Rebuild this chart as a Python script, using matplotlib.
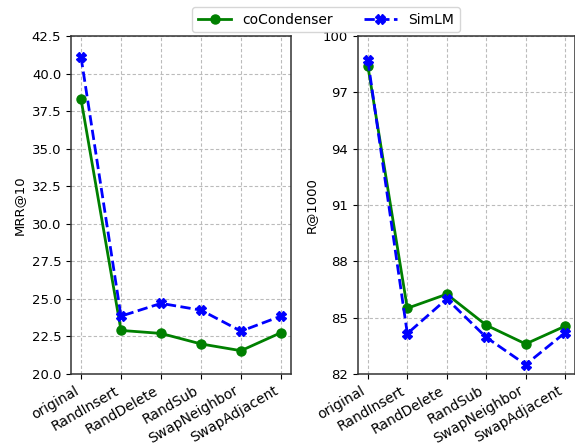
import matplotlib
matplotlib.use('Agg')
import matplotlib.pyplot as plt

methods = ['original', 'RandInsert', 'RandDelete', 'RandSub', 'SwapNeighbor', 'SwapAdjacent']

# MRR@10
cocondenser_mrr = [38.3, 22.9, 22.7, 22.0, 21.55, 22.75]
simlm_mrr = [41.1, 23.85, 24.7, 24.25, 22.85, 23.85]

# R@1000
cocondenser_recall = [98.4, 85.5, 86.25, 84.6, 83.6, 84.55]
simlm_recall = [98.7, 84.15, 86.0, 83.95, 82.5, 84.2]

mrr_ticks = [20.0, 22.5, 25.0, 27.5, 30.0, 32.5, 35.0, 37.5, 40.0, 42.5]
recall_ticks = [82, 85, 88, 91, 94, 97, 100]

fig = plt.figure(figsize=(5.75, 4.45), dpi=100)
ax1 = fig.add_axes([0.1235, 0.1596, 0.3825, 0.7595])
ax2 = fig.add_axes([0.6226, 0.1596, 0.3774, 0.7595])

x = range(len(methods))

for ax, co, sim, ticks, ylabel in [
    (ax1, cocondenser_mrr, simlm_mrr, mrr_ticks, 'MRR@10'),
    (ax2, cocondenser_recall, simlm_recall, recall_ticks, 'R@1000'),
]:
    ax.plot(x, co, color='green', linestyle='-', marker='o', linewidth=2,
            markersize=6.5, label='coCondenser')
    ax.plot(x, sim, color='blue', linestyle='--', marker='X', linewidth=2,
            markersize=6.5, label='SimLM')
    ax.set_yticks(ticks)
    ax.set_ylim(ticks[0], ticks[-1])
    ax.set_xticks(list(x))
    ax.set_xticklabels(methods, rotation=30, ha='right', fontsize=10)
    ax.tick_params(axis='y', labelsize=9.5)
    ax.set_ylabel(ylabel, fontsize=9.5)
    ax.grid(True, linestyle=(0, (3, 2)), color='#bbbbbb', linewidth=0.8)
    for s in ax.spines.values():
        s.set_linewidth(1.1)
        s.set_color('#333333')

ax1.yaxis.set_major_formatter(matplotlib.ticker.FormatStrFormatter('%.1f'))

handles, labels = ax1.get_legend_handles_labels()
fig.legend(handles, labels, loc='upper center', ncol=2, fontsize=10,
           bbox_to_anchor=(0.567, 1.0), handlelength=2.4, columnspacing=2.2)

fig.savefig('out.png', dpi=100)
